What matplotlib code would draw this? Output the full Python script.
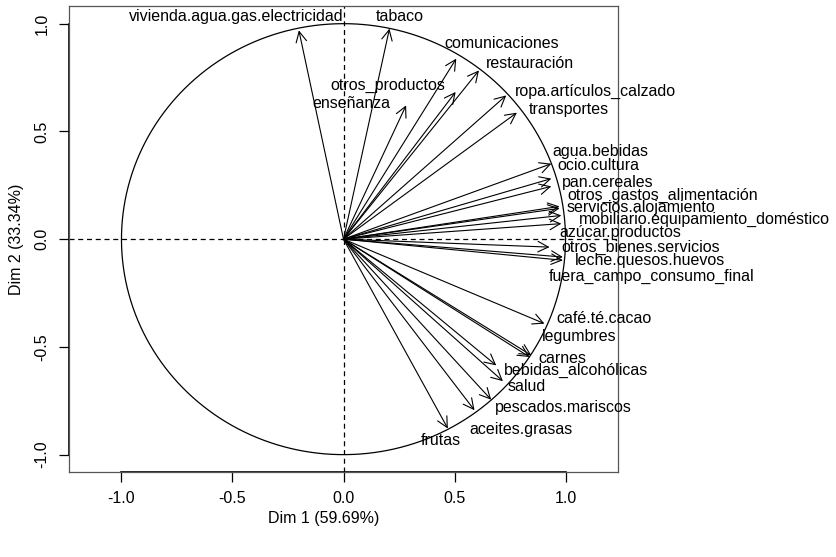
import numpy as np
import matplotlib
matplotlib.use("Agg")
import matplotlib.pyplot as plt

plt.rcParams['font.family'] = ['Liberation Sans', 'DejaVu Sans']

# variables of the correlation circle
variables = [
    "vivienda.agua.gas.electricidad", "tabaco", "comunicaciones", "restauración",
    "otros_productos", "enseñanza", "ropa.artículos_calzado", "transportes",
    "agua.bebidas", "ocio.cultura", "pan.cereales", "otros_gastos_alimentación",
    "servicios.alojamiento", "mobiliario.equipamiento_doméstico", "azúcar.productos",
    "otros_bienes.servicios", "leche.quesos.huevos", "fuera_campo_consumo_final",
    "café.té.cacao", "legumbres", "carnes", "bebidas_alcohólicas", "salud",
    "pescados.mariscos", "aceites.grasas", "frutas",
]
dim1 = [-0.201, 0.207, 0.508, 0.610, 0.505, 0.282, 0.733, 0.781,
        0.936, 0.936, 0.936, 0.973, 0.973, 0.981, 0.981, 0.928, 0.988, 0.988,
        0.905, 0.846, 0.838, 0.688, 0.718, 0.665, 0.590, 0.470]
dim2 = [0.969, 0.977, 0.838, 0.783, 0.683, 0.621, 0.667, 0.587,
        0.350, 0.281, 0.245, 0.152, 0.143, 0.110, 0.072, -0.037, -0.083, -0.098,
        -0.392, -0.539, -0.547, -0.586, -0.659, -0.745, -0.794, -0.879]

# label anchors (repelled like FactoMineR autoLab)
label_x = [-0.482, 0.252, 0.714, 0.838, 0.200, 0.036, 1.135, 1.017,
           1.159, 1.146, 1.191, 1.437, 1.338, 1.625, 1.245, 1.338, 1.381, 1.386,
           1.173, 1.063, 0.984, 1.046, 0.823, 0.988, 0.800, 0.440]
label_y = [1.031, 1.031, 0.910, 0.817, 0.714, 0.629, 0.687, 0.602,
           0.409, 0.342, 0.265, 0.203, 0.148, 0.090, 0.033, -0.039, -0.098, -0.173,
           -0.366, -0.454, -0.552, -0.609, -0.686, -0.782, -0.884, -0.934]

ticks = [-1.0, -0.5, 0.0, 0.5, 1.0]
xlab = "Dim 1 (59.69%)"
ylab = "Dim 2 (33.34%)"

W, H = 836, 557
fig = plt.figure(figsize=(W / 100, H / 100), dpi=100)
left, right, top, bottom = 69.3, 617.7, 6.0, 472.3
ax = fig.add_axes([left / W, 1 - bottom / H, (right - left) / W, (bottom - top) / H])
ax.set_xlim(-1.235, 1.235)
ax.set_ylim(-1.082, 1.082)

theta = np.linspace(0, 2 * np.pi, 400)
ax.plot(np.cos(theta), np.sin(theta), color="black", lw=0.9)
ax.axhline(0, color="black", lw=0.9, ls=(0, (4, 3)))
ax.axvline(0, color="black", lw=0.9, ls=(0, (4, 3)))

for x, y in zip(dim1, dim2):
    ax.annotate("", xy=(x, y), xytext=(0, 0),
                arrowprops=dict(arrowstyle="->,head_length=0.75,head_width=0.38",
                                mutation_scale=10, lw=0.8, color="black",
                                shrinkA=0, shrinkB=0))

for name, lx, ly in zip(variables, label_x, label_y):
    ax.text(lx, ly, name, fontsize=11.5, ha="center", va="center", clip_on=False)

for s in ax.spines.values():
    s.set_color("#555555")
    s.set_linewidth(0.9)
ax.plot([-1, 1], [0, 0], color="black", lw=1.2, transform=ax.get_xaxis_transform(), clip_on=False)
ax.plot([0, 0], [-1, 1], color="black", lw=1.2, transform=ax.get_yaxis_transform(), clip_on=False)

ax.set_xticks(ticks)
ax.set_yticks(ticks)
ax.set_xticklabels([f"{t:.1f}" for t in ticks])
ax.set_yticklabels([f"{t:.1f}" for t in ticks], rotation=90, va="center")
ax.tick_params(length=7.2, width=0.9, labelsize=11.5, pad=6.5)
ax.tick_params(axis="y", pad=7)

fig.text(324 / W, 1 - 519 / H, xlab, fontsize=11.5, ha="center", va="center")
fig.text(17 / W, 1 - 239 / H, ylab, fontsize=11.5, ha="center", va="center", rotation=90)

plt.savefig("out.png", dpi=100)
plt.close()
